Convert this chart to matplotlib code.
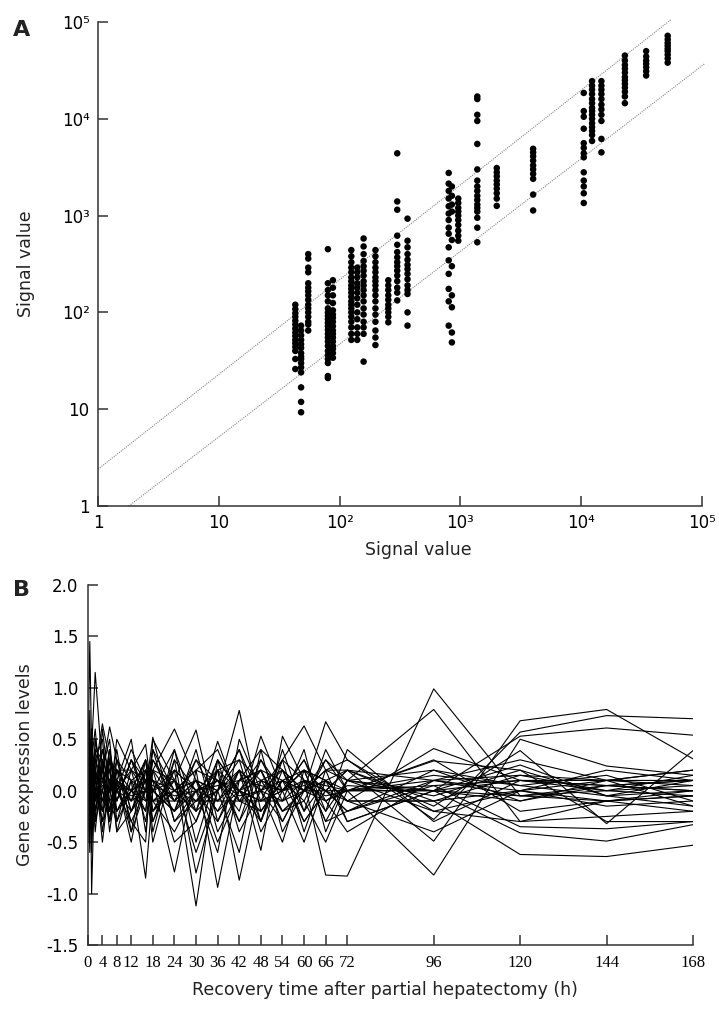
import matplotlib
matplotlib.use('Agg')
import matplotlib.pyplot as plt
import numpy as np

plt.rcParams['font.family'] = ['DejaVu Sans']
plt.rcParams['text.color'] = '#222222'
plt.rcParams['axes.labelcolor'] = '#222222'

### panel A data: scatter columns (x signal, y signal values) ###
col_x = [43, 48, 55, 80, 88, 125, 140, 158, 198, 253, 300, 365,
         800, 850, 960, 1380, 2000, 4000, 10500, 12300, 14700, 23000, 34500, 52000]
col_y = [
    [120, 108, 98, 90, 82, 75, 68, 62, 57, 52, 48, 44, 40, 33, 26],
    [73, 65, 58, 52, 47, 43, 38, 35, 33, 30, 27, 24, 16.8, 11.9, 9.3],
    [400, 360, 290, 260, 200, 180, 165, 150, 135, 120, 110, 100, 90, 80, 75, 65],
    [450, 200, 170, 150, 130, 110, 100, 92, 85, 78, 72, 66, 60, 55, 50, 45, 40, 36, 33, 30, 22, 21],
    [215, 180, 150, 125, 105, 95, 88, 80, 72, 65, 60, 55, 50, 45, 42, 38, 34],
    [440, 380, 330, 290, 260, 230, 210, 190, 175, 160, 145, 130, 120, 110, 100, 90, 80, 70, 60, 52],
    [290, 260, 230, 200, 180, 160, 140, 120, 100, 85, 70, 60, 52],
    [580, 480, 400, 340, 300, 270, 240, 210, 190, 170, 150, 130, 110, 95, 80, 70, 60, 31],
    [440, 380, 330, 290, 260, 230, 210, 190, 170, 150, 130, 110, 95, 80, 65, 55, 46],
    [215, 190, 170, 150, 135, 120, 110, 100, 90, 79],
    [4400, 1400, 1150, 620, 500, 420, 370, 330, 300, 270, 240, 210, 180, 160, 133],
    [930, 550, 470, 400, 350, 310, 280, 250, 220, 190, 170, 155, 100, 73],
    [2760, 2140, 1800, 1500, 1250, 1050, 900, 750, 650, 470, 345, 250, 175, 130, 73],
    [2000, 1600, 1300, 1100, 560, 300, 150, 113, 62, 49],
    [1500, 1350, 1200, 1100, 1000, 900, 800, 700, 620, 550],
    [17000, 16000, 11000, 9500, 5500, 3000, 2300, 2000, 1800, 1600, 1450, 1300, 1200, 1100, 950, 750, 530],
    [3100, 2800, 2550, 2300, 2100, 1900, 1700, 1500, 1260],
    [4900, 4500, 4100, 3700, 3300, 3000, 2700, 2400, 1650, 1130],
    [18500, 12000, 10500, 7900, 5600, 5000, 4400, 4000, 2800, 2300, 2000, 1700, 1350],
    [24500, 22000, 20000, 18000, 16000, 14500, 13000, 12000, 11000, 10000, 9000, 8200, 7500, 6800, 5900],
    [24500, 22000, 20000, 18000, 16000, 14000, 12500, 11000, 9500, 6200, 4500],
    [45000, 40000, 36000, 33000, 30000, 27000, 25000, 23000, 21000, 19000, 17000, 14500],
    [50000, 44000, 40000, 37000, 34000, 31000, 28000],
    [72000, 66000, 61000, 57000, 53000, 50000, 46000, 42000, 38000],
]
# dotted guide lines (end points)
upper_x = [1, 55000]
upper_y = [2.4, 105000]
lower_x = [1.8, 105000]
lower_y = [1, 37000]

### panel B data: expression profiles ###
times = [0, 0.5, 1, 2, 4, 6, 8, 12, 16, 18, 24, 30, 36, 42, 48, 54, 60, 66, 72, 96, 120, 144, 168]
time_ticks = [0, 4, 8, 12, 18, 24, 30, 36, 42, 48, 54, 60, 66, 72, 96, 120, 144, 168]
profiles = [
    [0.30, 1.45, 0.40, 1.15, 0.20, 0.10, 0.05, 0.00, 0.10, 0.05, -0.05, 0.00, 0.05, 0.10, 0.05, 0.00, 0.10, 0.05, 0.00, 0.05, 0.10, 0.05, 0.10],
    [-0.20, 0.78, -1.00, 0.30, 0.10, -0.10, 0.00, -0.20, 0.10, -0.10, 0.00, -0.10, 0.10, -0.05, 0.00, 0.10, 0.00, -0.10, 0.05, 0.00, -0.05, 0.00, -0.05],
    [0.50, 0.00, 0.30, 0.20, 0.65, 0.30, 0.20, -0.10, 0.00, 0.20, 0.60, 0.10, -0.20, 0.00, 0.10, 0.20, 0.00, 0.10, -0.10, 0.41, 0.10, 0.05, 0.10],
    [0.10, 0.20, 0.60, -0.10, 0.20, 0.62, 0.30, 0.10, -0.85, 0.00, -0.20, 0.00, 0.10, 0.00, -0.10, 0.00, 0.05, -0.05, 0.00, 0.29, 0.20, -0.30, -0.30],
    [-0.30, 0.40, 0.10, 0.00, -0.30, -0.10, 0.50, 0.20, 0.45, -0.10, 0.10, 0.59, -0.30, 0.20, 0.00, -0.10, 0.10, -0.82, -0.83, 0.99, -0.05, -0.10, 0.00],
    [0.20, -0.30, 0.50, 0.10, 0.40, 0.20, -0.10, 0.30, 0.00, 0.52, -0.30, -0.10, 0.00, 0.78, -0.20, 0.10, 0.00, 0.20, 0.10, 0.79, -0.30, -0.10, -0.05],
    [0.00, 0.10, -0.20, 0.50, 0.10, -0.20, 0.10, -0.50, 0.20, 0.10, -0.79, 0.20, 0.10, -0.20, 0.53, 0.00, 0.20, 0.10, 0.00, -0.82, 0.50, 0.24, 0.15],
    [-0.10, 0.50, 0.20, -0.30, 0.00, 0.40, -0.20, 0.00, 0.30, -0.20, 0.20, -1.12, 0.30, 0.00, -0.10, 0.30, 0.63, 0.20, 0.20, -0.49, 0.68, 0.79, 0.31],
    [0.40, -0.10, 0.30, 0.60, -0.20, 0.00, 0.20, 0.10, -0.20, 0.30, 0.00, 0.20, -0.94, 0.10, 0.20, -0.20, 0.00, 0.67, 0.30, -0.28, 0.57, 0.73, 0.70],
    [-0.30, 0.20, -0.50, 0.00, 0.30, -0.30, 0.00, 0.40, 0.10, -0.50, 0.30, 0.00, 0.20, -0.87, 0.10, 0.00, 0.30, -0.20, 0.10, 0.00, 0.53, 0.61, 0.54],
    [0.10, 0.30, 0.00, 0.20, -0.10, 0.30, -0.40, 0.10, 0.00, 0.10, -0.10, 0.30, -0.10, 0.20, -0.58, 0.53, 0.10, 0.00, 0.20, -0.15, 0.39, -0.32, 0.39],
    [0.20, 0.00, 0.40, -0.20, 0.10, 0.00, 0.30, -0.20, 0.20, 0.00, 0.10, -0.20, 0.48, -0.10, 0.00, -0.50, 0.20, 0.10, -0.10, -0.10, -0.62, -0.64, -0.53],
    [-0.20, 0.30, 0.10, 0.40, -0.40, 0.10, 0.00, 0.20, -0.30, 0.20, -0.10, 0.10, 0.00, 0.30, 0.10, -0.20, -0.10, -0.50, 0.00, 0.00, -0.41, -0.49, -0.33],
    [0.00, -0.40, 0.20, 0.10, 0.20, -0.30, 0.10, 0.00, 0.10, -0.30, 0.20, 0.00, -0.30, 0.10, 0.20, 0.10, -0.30, 0.00, -0.20, 0.05, -0.35, -0.37, -0.30],
    [0.30, 0.10, -0.30, 0.00, 0.00, 0.20, -0.10, 0.30, -0.10, 0.00, -0.20, 0.30, 0.10, -0.30, 0.30, 0.00, 0.20, -0.30, 0.10, -0.20, -0.30, -0.25, -0.20],
    [-0.10, 0.00, 0.10, -0.40, 0.30, 0.10, 0.20, -0.30, 0.00, 0.20, 0.10, -0.30, 0.20, 0.00, -0.20, 0.10, -0.10, 0.30, 0.00, 0.10, 0.00, 0.10, 0.05],
    [0.20, -0.20, 0.30, 0.10, -0.20, 0.40, 0.00, -0.10, 0.20, -0.20, 0.00, 0.10, -0.20, 0.20, 0.00, 0.20, -0.20, 0.10, 0.20, -0.10, 0.15, 0.00, 0.15],
    [-0.40, 0.60, -0.30, 0.30, 0.50, -0.20, 0.20, 0.00, -0.20, 0.40, -0.30, 0.00, 0.10, -0.10, 0.20, -0.30, 0.10, 0.00, -0.20, 0.20, 0.05, 0.15, -0.10],
    [0.10, -0.60, 0.50, -0.20, 0.20, 0.50, -0.30, 0.20, 0.10, 0.00, 0.40, -0.20, 0.00, 0.40, -0.30, 0.20, 0.00, 0.20, -0.30, 0.00, -0.10, 0.10, 0.20],
    [0.00, 0.20, -0.40, 0.20, -0.10, 0.00, 0.40, -0.40, 0.30, 0.10, -0.20, 0.40, -0.40, 0.00, 0.30, -0.10, 0.40, -0.40, 0.10, -0.05, 0.20, -0.05, 0.00],
    [0.30, -0.20, 0.00, 0.40, 0.30, -0.40, 0.10, 0.50, -0.40, 0.20, -0.50, -0.30, 0.30, -0.40, 0.00, 0.30, -0.40, 0.20, 0.30, -0.20, 0.00, 0.20, 0.10],
    [-0.20, 0.10, 0.30, -0.30, 0.60, 0.00, -0.20, 0.10, 0.20, -0.40, 0.40, -0.50, 0.20, 0.30, -0.40, 0.00, 0.30, -0.10, -0.40, 0.10, 0.30, 0.10, -0.15],
    [0.10, 0.00, -0.10, 0.10, -0.30, 0.30, 0.00, -0.30, -0.50, 0.50, 0.10, -0.60, 0.00, 0.20, -0.30, 0.40, -0.20, 0.40, 0.00, 0.30, -0.20, -0.10, -0.05],
    [0.40, 0.30, 0.20, -0.10, 0.00, -0.20, 0.20, 0.20, 0.00, -0.10, -0.40, 0.00, -0.60, 0.50, 0.00, -0.30, 0.10, -0.20, 0.40, -0.30, 0.10, 0.00, 0.05],
    [-0.10, -0.20, 0.20, 0.00, 0.40, -0.10, -0.30, 0.00, 0.30, -0.30, 0.30, -0.80, 0.00, -0.60, 0.40, 0.20, -0.30, 0.00, 0.20, 0.10, -0.05, 0.05, 0.00],
    [0.20, 0.40, -0.20, 0.00, 0.10, 0.30, 0.10, -0.40, 0.00, 0.10, 0.00, 0.20, 0.40, -0.10, -0.20, 0.10, 0.20, 0.00, -0.10, -0.40, 0.00, -0.15, -0.10],
    [0.00, -0.10, 0.00, 0.20, -0.50, 0.10, -0.10, 0.30, 0.10, 0.00, 0.20, 0.00, -0.10, 0.10, 0.40, -0.40, 0.00, 0.30, 0.10, 0.20, -0.10, 0.05, 0.00],
    [-0.30, 0.20, 0.40, 0.10, 0.00, -0.30, 0.30, -0.20, 0.10, -0.20, 0.10, -0.10, 0.20, -0.30, 0.10, 0.00, -0.50, 0.10, -0.30, 0.00, 0.25, -0.05, 0.10],
    [0.20, -0.10, 0.10, -0.10, 0.20, 0.10, -0.20, 0.00, -0.10, 0.30, -0.10, 0.10, -0.50, 0.00, -0.30, 0.30, 0.10, -0.10, 0.00, 0.15, 0.05, -0.05, -0.15],
    [-0.05, 0.05, 0.00, -0.05, 0.05, 0.00, 0.05, -0.05, 0.00, -0.10, -0.10, -0.10, -0.10, -0.10, -0.10, -0.10, 0.00, 0.00, 0.00, 0.00, 0.10, 0.10, 0.10],
    [0.10, -0.10, 0.20, 0.00, -0.20, 0.00, 0.10, -0.10, 0.30, 0.00, -0.20, 0.10, 0.00, 0.40, -0.10, 0.00, 0.20, -0.30, -0.20, 0.10, 0.15, 0.10, 0.20],
    [-0.50, 0.30, -0.60, 0.50, 0.10, 0.20, -0.40, -0.20, 0.00, 0.40, 0.00, -0.20, 0.30, 0.00, 0.20, -0.20, 0.00, 0.10, -0.10, -0.10, 0.00, -0.10, -0.20],
]

W, H = 719, 1017
fig = plt.figure(figsize=(W / 100, H / 100), dpi=100)
spine_c = '#333333'

### panel A ###
axA = fig.add_axes([98 / W, 1 - 506 / H, 604 / W, 484 / H])
for xv, ys in zip(col_x, col_y):
    axA.scatter([xv] * len(ys), ys, s=22, color='black', edgecolors='none', zorder=3)
axA.plot(upper_x, upper_y, color='#888888', lw=0.8, ls=(0, (1, 1)), clip_on=False)
axA.plot(lower_x, lower_y, color='#888888', lw=0.8, ls=(0, (1, 1)), clip_on=False)
axA.set_xscale('log')
axA.set_yscale('log')
axA.set_xlim(1, 1e5)
axA.set_ylim(1, 1e5)
dec = [1, 10, 100, 1000, 10000, 100000]
dec_lab = ['1', '10', '10²', '10³', '10⁴', '10⁵']
axA.set_xticks(dec)
axA.set_xticklabels(dec_lab)
axA.set_yticks(dec)
axA.set_yticklabels(dec_lab)
axA.minorticks_off()
axA.tick_params(direction='in', length=7, width=1.1, color=spine_c, labelsize=12, pad=6)
axA.set_xlabel('Signal value', fontsize=12.5)
axA.set_ylabel('Signal value', fontsize=12.5)
axA.xaxis.set_label_coords(0.53, -0.072)
axA.yaxis.set_label_coords(-0.105, 0.5)
for s in ['top', 'right']:
    axA.spines[s].set_visible(False)
for s in ['left', 'bottom']:
    axA.spines[s].set_color(spine_c)
    axA.spines[s].set_linewidth(1.1)
fig.text(13 / W, 1 - 30 / H, 'A', fontsize=16, fontweight='bold', va='center')

### panel B ###
axB = fig.add_axes([88 / W, 1 - 945 / H, 605 / W, 360 / H])
for p in profiles:
    axB.plot(times, p, color='black', lw=0.8)
axB.set_xlim(0, 168)
axB.set_ylim(-1.5, 2.0)
axB.set_yticks(np.arange(-1.5, 2.01, 0.5))
axB.set_yticklabels(['%.1f' % v for v in np.arange(-1.5, 2.01, 0.5)])
axB.set_xticks(time_ticks)
axB.set_xticklabels([str(t) for t in time_ticks], family='Liberation Serif', fontsize=12)
axB.tick_params(direction='in', length=7, width=1.1, color=spine_c, pad=7)
axB.tick_params(axis='y', labelsize=12)
axB.set_xlabel('Recovery time after partial hepatectomy (h)', fontsize=12.5)
axB.set_ylabel('Gene expression levels', fontsize=12.5)
axB.xaxis.set_label_coords(0.49, -0.1)
axB.yaxis.set_label_coords(-0.09, 0.5)
for s in ['top', 'right']:
    axB.spines[s].set_visible(False)
for s in ['left', 'bottom']:
    axB.spines[s].set_color(spine_c)
    axB.spines[s].set_linewidth(1.1)
fig.text(13 / W, 1 - 590 / H, 'B', fontsize=16, fontweight='bold', va='center')

plt.savefig('out.png', dpi=100)
